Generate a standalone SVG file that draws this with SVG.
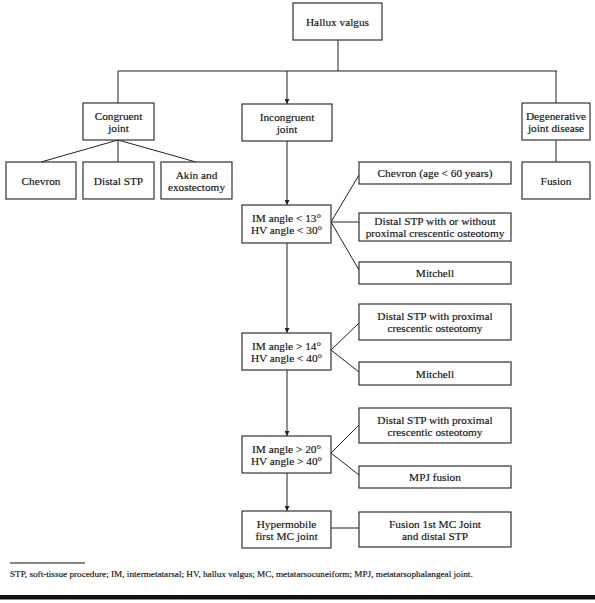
<svg xmlns="http://www.w3.org/2000/svg" width="595" height="603" viewBox="0 0 595 603">
<defs>
<marker id="ah" viewBox="0 0 8 8" refX="8" refY="4" markerWidth="5" markerHeight="5" orient="auto" markerUnits="userSpaceOnUse">
<path d="M0,0 L8,4 L0,8 Z" fill="#222"/>
</marker>
<style>
rect.b{fill:#fff;stroke:#333;stroke-width:1.2}
text{font-family:"Liberation Serif","Times New Roman",serif;font-size:11.3px;fill:#111;text-anchor:middle;stroke:#111;stroke-width:0.15}
.c line{stroke:#222;stroke-width:1;fill:none}
.fn{font-size:9.2px;text-anchor:start}
</style>
</defs>
<rect width="595" height="603" fill="#fff"/>
<g class="c" id="connectors">
<line x1="338" y1="40" x2="338" y2="71"/>
<line x1="118" y1="71" x2="557" y2="71"/>
<line x1="118" y1="71" x2="118" y2="103"/>
<line x1="287" y1="71" x2="287" y2="104" marker-end="url(#ah)"/>
<line x1="556" y1="71" x2="556" y2="103"/>
<line x1="118" y1="140" x2="41" y2="162"/>
<line x1="118" y1="140" x2="118" y2="162"/>
<line x1="118" y1="140" x2="196" y2="162"/>
<line x1="287" y1="141" x2="287" y2="205" marker-end="url(#ah)"/>
<line x1="331" y1="222" x2="359" y2="175"/>
<line x1="331" y1="222" x2="359" y2="222"/>
<line x1="331" y1="222" x2="359" y2="270"/>
<line x1="287" y1="243" x2="287" y2="333" marker-end="url(#ah)"/>
<line x1="331" y1="350" x2="359" y2="323"/>
<line x1="331" y1="350" x2="359" y2="372"/>
<line x1="287" y1="370" x2="287" y2="436" marker-end="url(#ah)"/>
<line x1="331" y1="453" x2="359" y2="425"/>
<line x1="331" y1="453" x2="359" y2="475"/>
<line x1="287" y1="473" x2="287" y2="511" marker-end="url(#ah)"/>
<line x1="331" y1="528" x2="359" y2="528"/>
<line x1="556" y1="140" x2="556" y2="162"/>
</g>
<g id="hallux"><rect class="b" x="293" y="3" width="89" height="37"/><text x="337.5" y="25.5">Hallux valgus</text></g>
<g id="congruent"><rect class="b" x="83" y="103" width="71" height="37"/><text x="118.5" y="120">Congruent</text><text x="118.5" y="132">joint</text></g>
<g id="incongruent"><rect class="b" x="242" y="104" width="90" height="37"/><text x="287" y="121">Incongruent</text><text x="287" y="133">joint</text></g>
<g id="degenerative"><rect class="b" x="522" y="103" width="68" height="37"/><text x="556" y="120">Degenerative</text><text x="556" y="132">joint disease</text></g>
<g id="chevron"><rect class="b" x="6" y="162" width="70" height="37"/><text x="41" y="184.5">Chevron</text></g>
<g id="distal-stp"><rect class="b" x="83" y="162" width="71" height="37"/><text x="118.5" y="184.5">Distal STP</text></g>
<g id="akin"><rect class="b" x="161" y="162" width="71" height="37"/><text x="196.5" y="179">Akin and</text><text x="196.5" y="191">exostectomy</text></g>
<g id="fusion"><rect class="b" x="522" y="162" width="68" height="37"/><text x="556" y="184.5">Fusion</text></g>
<g id="im1"><rect class="b" x="242" y="205" width="89" height="38"/><text x="286.5" y="222">IM angle &lt; 13°</text><text x="286.5" y="234">HV angle &lt; 30°</text></g>
<g id="chevron-age"><rect class="b" x="359" y="162" width="152" height="22"/><text x="435" y="177">Chevron (age &lt; 60 years)</text></g>
<g id="distal-with-without"><rect class="b" x="359" y="213" width="152" height="28"/><text x="435" y="225">Distal STP with or without</text><text x="435" y="237">proximal crescentic osteotomy</text></g>
<g id="mitchell1"><rect class="b" x="359" y="262" width="152" height="22"/><text x="435" y="277">Mitchell</text></g>
<g id="im2"><rect class="b" x="242" y="333" width="89" height="37"/><text x="286.5" y="350">IM angle &gt; 14°</text><text x="286.5" y="362">HV angle &lt; 40°</text></g>
<g id="distal-prox1"><rect class="b" x="359" y="304" width="152" height="36"/><text x="435" y="320">Distal STP with proximal</text><text x="435" y="332">crescentic osteotomy</text></g>
<g id="mitchell2"><rect class="b" x="359" y="362" width="152" height="23"/><text x="435" y="377.5">Mitchell</text></g>
<g id="im3"><rect class="b" x="242" y="436" width="89" height="37"/><text x="286.5" y="453">IM angle &gt; 20°</text><text x="286.5" y="465">HV angle &gt; 40°</text></g>
<g id="distal-prox2"><rect class="b" x="359" y="408" width="152" height="35"/><text x="435" y="424">Distal STP with proximal</text><text x="435" y="436">crescentic osteotomy</text></g>
<g id="mpj-fusion"><rect class="b" x="359" y="466" width="152" height="22"/><text x="435" y="481">MPJ fusion</text></g>
<g id="hypermobile"><rect class="b" x="242" y="511" width="89" height="37"/><text x="286.5" y="528">Hypermobile</text><text x="286.5" y="540">first MC joint</text></g>
<g id="fusion-mc"><rect class="b" x="359" y="512" width="152" height="35"/><text x="435" y="528">Fusion 1st MC Joint</text><text x="435" y="540">and distal STP</text></g>
<line x1="10" y1="563" x2="85" y2="563" stroke="#111" stroke-width="1"/>
<text class="fn" x="10" y="577">STP, soft-tissue procedure; IM, intermetatarsal; HV, hallux valgus; MC, metatarsocuneiform; MPJ, metatarsophalangeal joint.</text>
<rect x="0" y="595" width="595" height="4.5" fill="#111"/>
</svg>
